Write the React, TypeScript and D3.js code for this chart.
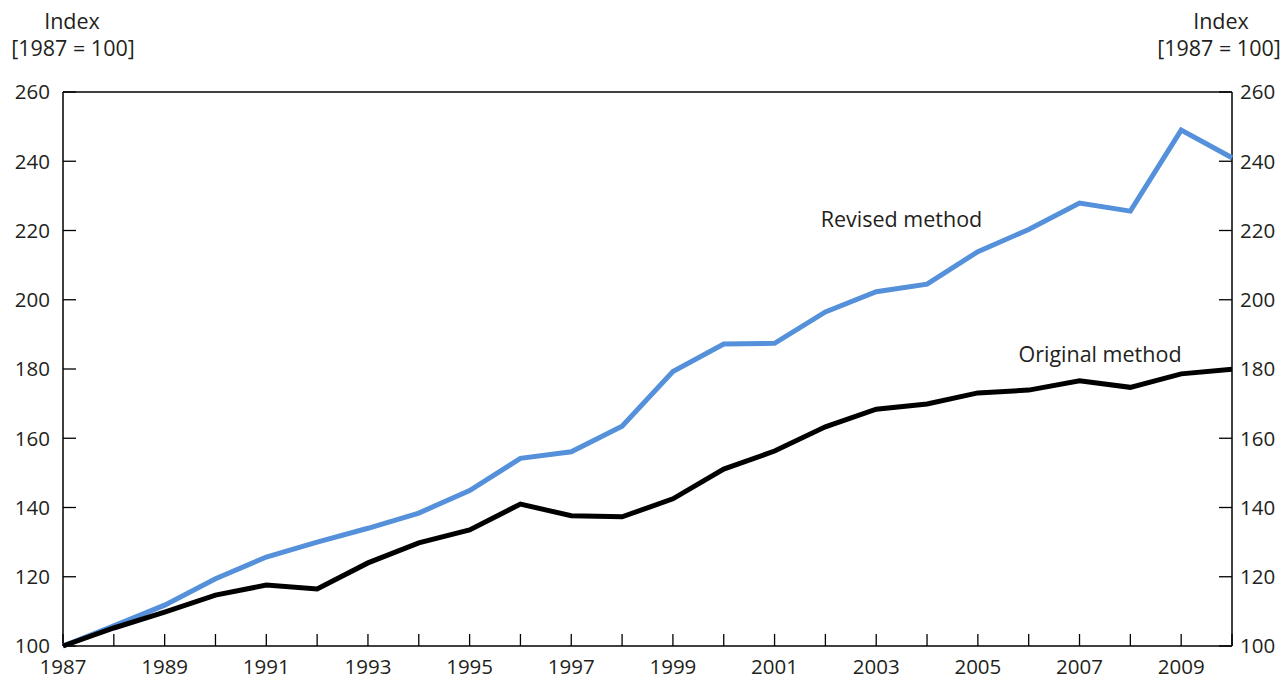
import React from "react";
import * as d3 from "d3";

const years = d3.range(1987, 2011);
const revised = [100, 105.8, 111.8, 119.4, 125.7, 130.0, 134.0, 138.4, 144.9, 154.2, 156.1, 163.5, 179.3, 187.2, 187.4, 196.5, 202.3, 204.5, 213.9, 220.3, 227.9, 225.6, 249.0, 241.0];
const original = [100, 105.2, 109.8, 114.7, 117.6, 116.5, 124.0, 129.8, 133.5, 141.0, 137.6, 137.3, 142.5, 151.1, 156.3, 163.3, 168.4, 169.9, 173.1, 173.9, 176.6, 174.7, 178.6, 179.9];
const yTicks = [100, 120, 140, 160, 180, 200, 220, 240, 260];
const xLabelYears = d3.range(1987, 2010, 2);

const W = 1286;
const H = 681;
const L = 63;
const R = 1232;
const T = 92;
const B = 646;
const FONT = "'Open Sans', 'Noto Sans', sans-serif";

export default function App() {
  const x = d3.scaleLinear().domain([1987, 2010]).range([L, R]);
  const y = d3.scaleLinear().domain([100, 260]).range([B, T]);
  const line = d3
    .line<number>()
    .x((_, i) => x(years[i]))
    .y((d) => y(d));

  const tickStyle = { fontFamily: FONT, fontSize: 20.5, fill: "#231f20" };
  const textStyle = { fontFamily: FONT, fontSize: 21.5, fill: "#231f20" };

  return (
    <svg
      width={W}
      height={H}
      style={{ position: "absolute", left: 0, top: 0, display: "block", background: "#fff" }}
    >
      {/* frame */}
      <line x1={L} x2={R} y1={T} y2={T} stroke="#000" strokeWidth={1.5} />
      <line x1={L} x2={L} y1={T} y2={B} stroke="#000" strokeWidth={1.5} />
      <line x1={R} x2={R} y1={T} y2={B} stroke="#000" strokeWidth={1.5} />
      <line x1={L} x2={R} y1={B} y2={B} stroke="#000" strokeWidth={1.5} />

      {/* y ticks */}
      {yTicks.map((t) => (
        <g key={t}>
          <line x1={L} x2={L + 13} y1={y(t)} y2={y(t)} stroke="#000" strokeWidth={1.3} />
          <line x1={R - 13} x2={R} y1={y(t)} y2={y(t)} stroke="#000" strokeWidth={1.3} />
          <text x={50} y={y(t)} dy="0.36em" textAnchor="end" style={tickStyle}>
            {t}
          </text>
          <text x={1240} y={y(t)} dy="0.36em" textAnchor="start" style={tickStyle}>
            {t}
          </text>
        </g>
      ))}

      {/* x ticks */}
      {years.map((yr) => (
        <line key={yr} x1={x(yr)} x2={x(yr)} y1={B} y2={B - 12} stroke="#000" strokeWidth={1.3} />
      ))}
      {xLabelYears.map((yr) => (
        <text key={yr} x={x(yr)} y={674} textAnchor="middle" style={tickStyle}>
          {yr}
        </text>
      ))}

      {/* axis titles */}
      <text x={72} y={29} textAnchor="middle" style={textStyle}>Index</text>
      <text x={73} y={56} textAnchor="middle" style={textStyle}>[1987 = 100]</text>
      <text x={1221} y={29} textAnchor="middle" style={textStyle}>Index</text>
      <text x={1219} y={56} textAnchor="middle" style={textStyle}>[1987 = 100]</text>

      {/* lines */}
      <path d={line(revised) || ""} fill="none" stroke="#5590DA" strokeWidth={5} strokeLinejoin="miter" />
      <path d={line(original) || ""} fill="none" stroke="#000" strokeWidth={5} strokeLinejoin="miter" />

      {/* labels */}
      <text x={901.5} y={227} textAnchor="middle" style={textStyle}>Revised method</text>
      <text x={1100} y={362} textAnchor="middle" style={textStyle}>Original method</text>
    </svg>
  );
}
